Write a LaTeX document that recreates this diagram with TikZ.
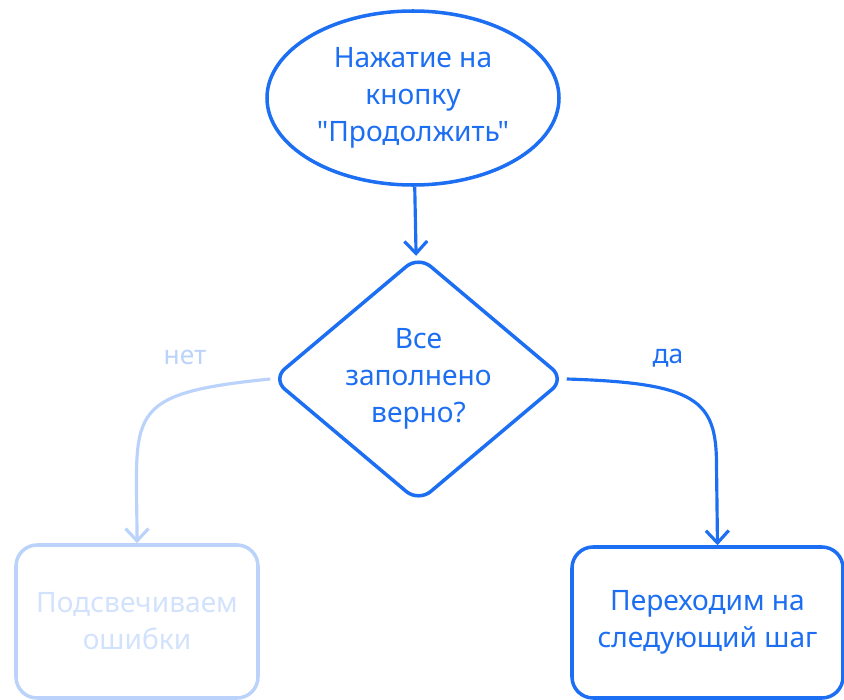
\documentclass[tikz,border=0pt]{standalone}
\usepackage{fontspec}
\setmainfont{Noto Sans}[Ligatures=TeXOff]
\usepackage{tikz}
\usetikzlibrary{arrows.meta,positioning,shapes.geometric,calc}
\definecolor{skblue}{HTML}{1C6EF2}
\definecolor{skfade}{HTML}{BBD3FB}
\definecolor{skfadetext}{HTML}{D3E2FC}

\tikzset{
  sketch/.style={draw=skblue,line width=2pt,align=center,text=skblue,
    font=\fontsize{16}{21}\selectfont,inner sep=0pt},
  startnode/.style={sketch,ellipse,minimum width=5.84cm,minimum height=3.48cm},
  decision/.style={sketch,diamond,minimum width=5.86cm,minimum height=4.6cm,
    rounded corners=9pt},
  stepbox/.style={sketch,rectangle,rounded corners=12pt},
  fadedbox/.style={stepbox,draw=skfade,text=skfadetext},
  flow/.style={draw=skblue,line width=1.8pt,-{Straight Barb[length=7pt,width=13pt]}},
  fadedflow/.style={flow,draw=skfade},
  lbl/.style={font=\fontsize{15}{18}\selectfont,text=skblue},
}

\begin{document}
\begin{tikzpicture}[x=1cm,y=1cm]
  \useasboundingbox (0,0) rectangle (16.88,-14);

  \node[startnode] (start) at (8.26,-1.96) {Нажатие на\\кнопку\\"Продолжить"};
  \node[decision] (check) at (8.37,-7.58) {Все\\заполнено\\верно?};
  \node[fadedbox,minimum width=4.84cm,minimum height=3.06cm] (errors) at (2.74,-12.43)
    {Подсвечиваем\\ошибки};
  \node[stepbox,minimum width=5.42cm,minimum height=3.02cm] (next) at (14.15,-12.45)
    {Переходим на\\следующий шаг};

  % connectors
  \draw[flow] (start) -- (check);
  \draw[fadedflow] (check.west) .. controls +(-3.0,-0.3) and +(0,2.6) .. (errors.north);
  \coordinate (bend) at (14.33,-9.3);
  \draw[flow] (check.east) .. controls +(2.6,-0.08) and +(0,1.3) .. (bend)
    -- ($(next.north)+(0.2,0)$);

  \node[lbl,text=skfade] (nolbl) at (3.7,-7.14) {нет};
  \node[lbl] (yeslbl) at (13.36,-7.16) {да};
\end{tikzpicture}
\end{document}
